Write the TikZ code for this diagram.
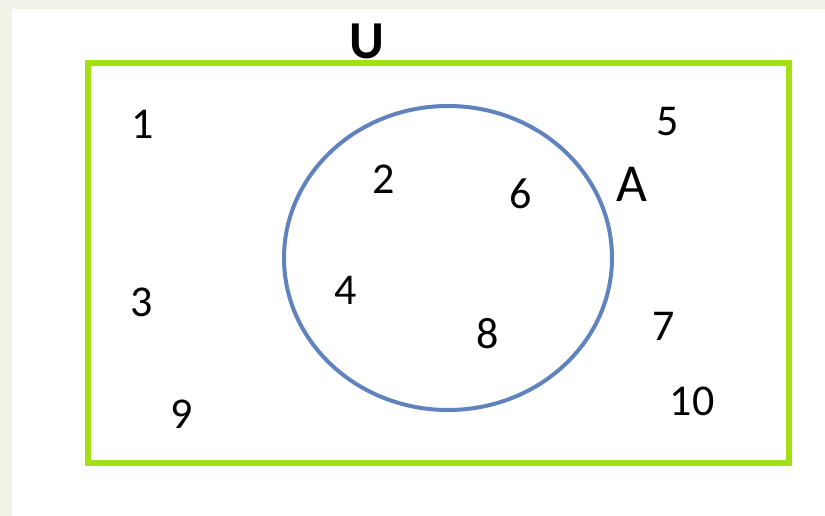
\documentclass[tikz,border=0pt]{standalone}
\usepackage{fontspec}
\setmainfont{Carlito}
\usepackage{xcolor}
\usepackage{tikz}
\definecolor{limeline}{RGB}{163,224,20}
\definecolor{setblue}{RGB}{96,131,190}
\definecolor{paleedge}{RGB}{240,244,230}

\begin{document}
\begin{tikzpicture}[x=0.75pt,y=-0.75pt,
      elem/.style={inner sep=0pt,font=\fontsize{33}{36}\selectfont},
      setname/.style={inner sep=0pt,font=\fontsize{40}{44}\selectfont}]
    \useasboundingbox (0,0) rectangle (825,516);
    % page
    \fill[paleedge] (0,0) rectangle (825,516);
    \fill[white] (12,9) rectangle (825,516);
    % universe
    \draw[limeline,line width=3.8pt] (88,63) rectangle (789,463);
    \node[setname,font=\bfseries\fontsize{40}{44}\selectfont] (U) at (367,41) {U};
    % set A
    \draw[setblue,line width=3pt] (448,258) ellipse [x radius=164,y radius=152];
    \node[setname] (A) at (632,184) {A};
    % elements inside A
    \node[elem] (e2) at (384,179) {2};
    \node[elem] (e6) at (521,194) {6};
    \node[elem] (e4) at (346,290) {4};
    \node[elem] (e8) at (488,334) {8};
    % elements outside A
    \node[elem] (e1) at (143,124) {1};
    \node[elem] (e3) at (142,302) {3};
    \node[elem] (e9) at (182,414) {9};
    \node[elem] (e5) at (668,122) {5};
    \node[elem] (e7) at (664,326) {7};
    \node[elem] (e10) at (692,401) {10};
  \end{tikzpicture}
\end{document}
